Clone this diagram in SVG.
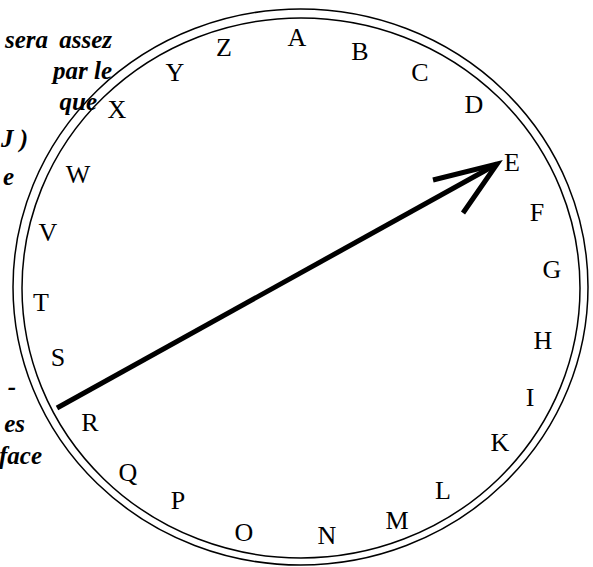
<svg xmlns="http://www.w3.org/2000/svg" width="593" height="567" viewBox="0 0 593 567">
<style>
.lbl{font-family:"Liberation Serif","Times New Roman",serif;font-size:26px;fill:#000;text-anchor:middle}
.note{font-family:"Liberation Serif","Times New Roman",serif;font-size:25px;font-weight:bold;font-style:italic;fill:#000;text-anchor:end}
.ring{fill:none;stroke:#000;stroke-width:1.5}
.arr{fill:none;stroke:#000;stroke-width:5}
</style>
<rect width="593" height="567" fill="#fff"/>
<g id="note-top">
<text class="note" x="48" y="48">sera</text>
<text class="note" x="112" y="48">assez</text>
<text class="note" x="112" y="79">par le</text>
<text class="note" x="97" y="110">que</text>
<text class="note" x="28" y="147">J )</text>
<text class="note" x="14" y="185">e</text>
</g>
<g id="note-bottom">
<text class="note" x="16" y="395">-</text>
<text class="note" x="25" y="432">es</text>
<text class="note" x="42" y="464">face</text>
</g>
<g id="dial">
<ellipse class="ring" cx="300.5" cy="287" rx="287.5" ry="278"/>
<ellipse class="ring" cx="301" cy="288" rx="279" ry="270"/>
</g>
<g id="letters">
<text class="lbl" x="297" y="46">A</text>
<text class="lbl" x="360" y="60">B</text>
<text class="lbl" x="420" y="81">C</text>
<text class="lbl" x="474" y="113">D</text>
<text class="lbl" x="512" y="171">E</text>
<text class="lbl" x="537" y="221">F</text>
<text class="lbl" x="552" y="278">G</text>
<text class="lbl" x="543" y="349">H</text>
<text class="lbl" x="530" y="406">I</text>
<text class="lbl" x="500" y="451">K</text>
<text class="lbl" x="443" y="499">L</text>
<text class="lbl" x="397" y="529">M</text>
<text class="lbl" x="327" y="544">N</text>
<text class="lbl" x="244" y="541">O</text>
<text class="lbl" x="178" y="509">P</text>
<text class="lbl" x="128" y="481">Q</text>
<text class="lbl" x="90" y="431">R</text>
<text class="lbl" x="58" y="366">S</text>
<text class="lbl" x="41" y="311">T</text>
<text class="lbl" x="48" y="241">V</text>
<text class="lbl" x="78" y="183">W</text>
<text class="lbl" x="117" y="118">X</text>
<text class="lbl" x="175" y="81">Y</text>
<text class="lbl" x="224" y="56">Z</text>
</g>
<g id="connectors">
<line class="arr" x1="57" y1="408" x2="497" y2="164"/>
<polyline class="arr" points="433,180 497,164 463,213"/>
</g>
</svg>
